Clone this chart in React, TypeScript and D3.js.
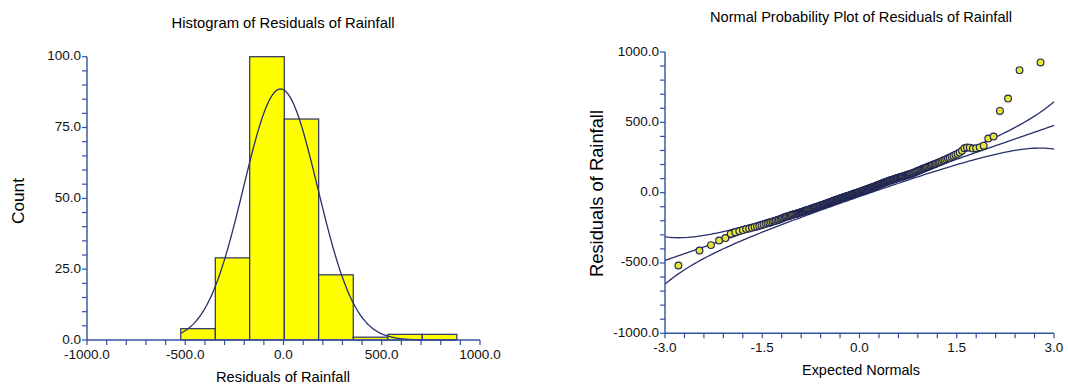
import * as d3 from "d3";

// histogram of residuals (bin edges and counts)
const histEdges = [-523, -347, -172, 4, 179, 355, 531, 706, 882];
const histCounts = [4, 29, 100, 78, 23, 1, 2, 2];
const fitMean = -15;
const fitSd = 189;

const histXTicks = [-1000, -500, 0, 500, 1000];
const histYTicks = [0, 25, 50, 75, 100];

// sorted residuals for the normal probability plot
const residuals = [
  -518, -411, -373, -340, -323, -292, -281, -273, -266, -259,
  -255, -250, -245, -240, -235, -231, -226, -222, -218, -214,
  -210, -206, -202, -199, -195, -192, -188, -184, -180, -175,
  -172, -169, -167, -164, -161, -159, -156, -154, -152, -150,
  -147, -145, -142, -140, -137, -135, -132, -130, -127, -125,
  -123, -121, -119, -117, -115, -112, -110, -108, -106, -104,
  -102, -100, -98, -96, -94, -92, -90, -88, -86, -84,
  -82, -80, -78, -76, -74, -72, -70, -68, -66, -64,
  -62, -60, -58, -56, -55, -53, -51, -49, -48, -46,
  -44, -42, -40, -38, -37, -35, -33, -31, -30, -28,
  -26, -25, -23, -21, -20, -18, -16, -15, -13, -12,
  -10, -8, -6, -5, -3, -1, 0, 2, 3, 5,
  7, 9, 10, 12, 14, 15, 17, 19, 20, 22,
  24, 26, 28, 29, 31, 33, 35, 37, 38, 40,
  42, 44, 46, 48, 50, 52, 54, 56, 58, 60,
  62, 64, 66, 68, 70, 72, 74, 76, 78, 80,
  82, 84, 86, 87, 89, 91, 93, 94, 96, 98,
  100, 102, 104, 106, 108, 109, 111, 113, 115, 117,
  119, 121, 123, 125, 127, 129, 131, 133, 135, 138,
  140, 143, 146, 149, 152, 155, 158, 161, 164, 168,
  171, 174, 178, 181, 184, 188, 191, 195, 198, 202, 206, 210, 214, 218,
  222, 228, 233, 238, 244, 249, 256, 262, 270, 276, 285,
  298, 316, 321, 320, 314, 316, 322, 334, 385, 399, 581, 669, 871, 926,
];
const qqIntercept = -2;
const qqSlope = 160;
const bandZ = 1.96;

const qqXTicks = [-3, -1.5, 0, 1.5, 3];
const qqYTicks = [-1000, -500, 0, 500, 1000];

const FONT = "'Liberation Sans', Arial, Helvetica, sans-serif";
const AXIS = "#3450a0";
const INK = "#28306a";

const pdf = (z) => Math.exp((-z * z) / 2) / Math.sqrt(2 * Math.PI);

// normal cdf (Abramowitz-Stegun)
const cdf = (z) => {
  const t = 1 / (1 + 0.2316419 * Math.abs(z));
  const poly =
    t * (0.31938153 + t * (-0.356563782 + t * (1.781477937 + t * (-1.821255978 + t * 1.330274429))));
  const v = 1 - pdf(z) * poly;
  return z >= 0 ? v : 1 - v;
};

// inverse normal cdf (Acklam)
const invNorm = (p) => {
  const a = [-39.69683028665376, 220.9460984245205, -275.9285104469687, 138.357751867269, -30.66479806614716, 2.506628277459239];
  const b = [-54.47609879822406, 161.5858368580409, -155.6989798598866, 66.80131188771972, -13.28068155288572];
  const c = [-0.007784894002430293, -0.3223964580411365, -2.400758277161838, -2.549732539343734, 4.374664141464968, 2.938163982698783];
  const d = [0.007784695709041462, 0.3224671290700398, 2.445134137142996, 3.754408661907416];
  const lo = 0.02425;
  if (p < lo) {
    const q = Math.sqrt(-2 * Math.log(p));
    return (((((c[0] * q + c[1]) * q + c[2]) * q + c[3]) * q + c[4]) * q + c[5]) /
      ((((d[0] * q + d[1]) * q + d[2]) * q + d[3]) * q + 1);
  }
  if (p > 1 - lo) return -invNorm(1 - p);
  const q = p - 0.5;
  const r = q * q;
  return ((((((a[0] * r + a[1]) * r + a[2]) * r + a[3]) * r + a[4]) * r + a[5]) * q) /
    (((((b[0] * r + b[1]) * r + b[2]) * r + b[3]) * r + b[4]) * r + 1);
};

const fmt = (v) => v.toFixed(1);

const App = () => {
  const width = 1068;
  const height = 385;

  // ---- histogram ----
  const hx = d3.scaleLinear().domain([-1000, 1000]).range([87, 480]);
  const hy = d3.scaleLinear().domain([0, 100]).range([340, 56.7]);
  const nObs = d3.sum(histCounts);
  const binW = (histEdges[histEdges.length - 1] - histEdges[0]) / histCounts.length;
  const curveXs = d3.range(histEdges[0], histEdges[histEdges.length - 1] + 0.1, 5);
  const normalPath = d3
    .line()
    .x((v) => hx(v))
    .y((v) => hy((nObs * binW * pdf((v - fitMean) / fitSd)) / fitSd))(curveXs);

  // ---- normal probability plot ----
  const qx = d3.scaleLinear().domain([-3, 3]).range([665, 1054]);
  const qy = d3.scaleLinear().domain([-1000, 1000]).range([333.3, 52]);
  const n = residuals.length;
  const points = residuals.map((r, i) => [invNorm((i + 1 - 0.375) / (n + 0.25)), r]);
  const zs = d3.range(-3, 3.0001, 0.05);
  const half = (z) => (bandZ * qqSlope * Math.sqrt((cdf(z) * (1 - cdf(z))) / n)) / pdf(z);
  const lineGen = (f) =>
    d3
      .line()
      .x((z) => qx(z))
      .y((z) => qy(f(z)))(zs);
  const fitLine = lineGen((z) => qqIntercept + qqSlope * z);
  const upper = lineGen((z) => qqIntercept + qqSlope * z + half(z));
  const lower = lineGen((z) => qqIntercept + qqSlope * z - half(z));

  const tick = { stroke: AXIS, strokeWidth: 1.2 };
  const lbl = { fontFamily: FONT, fontSize: 13.5, fill: "#111" };

  const xAxis = (scale, y, majors, minors) => (
    <g>
      <line x1={scale.range()[0]} x2={scale.range()[1]} y1={y} y2={y} {...tick} strokeWidth={1.4} />
      {minors.map((v, i) => (
        <line key={i} x1={scale(v)} x2={scale(v)} y1={y} y2={y + 5} {...tick} />
      ))}
      {majors.map((v) => (
        <text key={v} x={scale(v)} y={y + 19} textAnchor="middle" {...lbl}>
          {fmt(v)}
        </text>
      ))}
    </g>
  );
  const yAxis = (scale, x, majors, minors) => (
    <g>
      <line y1={scale.range()[0]} y2={scale.range()[1]} x1={x} x2={x} {...tick} strokeWidth={1.4} />
      {minors.map((v, i) => (
        <line key={i} y1={scale(v)} y2={scale(v)} x1={x - 5} x2={x} {...tick} />
      ))}
      {majors.map((v) => (
        <text key={v} x={x - 6} y={scale(v) + 3.5} textAnchor="end" {...lbl}>
          {fmt(v)}
        </text>
      ))}
    </g>
  );

  return (
    <svg
      width={width}
      height={height}
      style={{ position: "absolute", left: 0, top: 0, background: "#fff" }}
    >
      {/* titles */}
      <text x={283} y={27.5} textAnchor="middle" fontFamily={FONT} fontSize={15} textLength={223} lengthAdjust="spacingAndGlyphs">
        Histogram of Residuals of Rainfall
      </text>
      <text x={861} y={21.5} textAnchor="middle" fontFamily={FONT} fontSize={15} textLength={302} lengthAdjust="spacingAndGlyphs">
        Normal Probability Plot of Residuals of Rainfall
      </text>

      {/* histogram */}
      {histCounts.map((c, i) => (
        <rect
          key={i}
          x={hx(histEdges[i])}
          y={hy(c)}
          width={hx(histEdges[i + 1]) - hx(histEdges[i])}
          height={hy(0) - hy(c)}
          fill="#ffff00"
          stroke={INK}
          strokeWidth={1.2}
        />
      ))}
      <path d={normalPath} fill="none" stroke={INK} strokeWidth={1.3} />
      {xAxis(hx, 340, histXTicks, d3.range(-1000, 1000.1, 100))}
      {yAxis(hy, 87, histYTicks, d3.range(0, 100.1, 5))}
      <text x={283} y={382} textAnchor="middle" fontFamily={FONT} fontSize={15} textLength={134} lengthAdjust="spacingAndGlyphs">
        Residuals of Rainfall
      </text>
      <text
        transform="translate(24,201) rotate(-90)"
        textAnchor="middle"
        fontFamily={FONT}
        fontSize={17}
        textLength={46}
        lengthAdjust="spacingAndGlyphs"
      >
        Count
      </text>

      {/* normal probability plot */}
      <path d={upper} fill="none" stroke={INK} strokeWidth={1.3} />
      <path d={fitLine} fill="none" stroke={INK} strokeWidth={1.3} />
      <path d={lower} fill="none" stroke={INK} strokeWidth={1.3} />
      {points.map(([z, r], i) => (
        <circle key={i} cx={qx(z)} cy={qy(r)} r={3.4} fill="#e6e634" stroke="#1f2456" strokeWidth={1.15} />
      ))}
      {xAxis(qx, 333.3, qqXTicks, d3.range(-3, 3.001, 0.3))}
      {yAxis(qy, 665, qqYTicks, d3.range(-1000, 1000.1, 100))}
      <text x={861} y={375} textAnchor="middle" fontFamily={FONT} fontSize={15} textLength={118} lengthAdjust="spacingAndGlyphs">
        Expected Normals
      </text>
      <text
        transform="translate(603,193.5) rotate(-90)"
        textAnchor="middle"
        fontFamily={FONT}
        fontSize={18}
        textLength={167}
        lengthAdjust="spacingAndGlyphs"
      >
        Residuals of Rainfall
      </text>
    </svg>
  );
};

export default App;
